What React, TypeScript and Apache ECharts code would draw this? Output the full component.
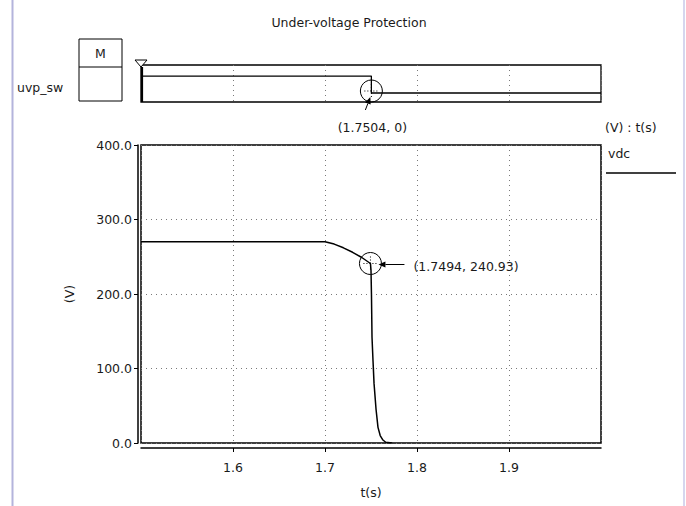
import React, { useEffect, useRef } from "react";
import * as echarts from "echarts";

// ---- data ----
const TITLE = "Under-voltage Protection";
const X_MIN = 1.5;
const X_MAX = 2.0;
const X_STEP = 0.1;
const Y_MIN = 0;
const Y_MAX = 400;
const Y_STEP = 100;
const X_NAME = "t(s)";
const Y_NAME = "(V)";

const vdcTime = [1.5, 1.6, 1.7, 1.71, 1.72, 1.73, 1.74, 1.7494, 1.75, 1.7505, 1.7511, 1.7522, 1.7533, 1.7555, 1.7576, 1.76, 1.763, 1.766, 1.773];
const vdcValue = [270, 270, 270, 267, 262, 256, 249, 240.93, 232, 200, 142, 110, 80, 45, 21, 10, 4, 1, 0];

const uvpTime = [1.5, 1.7504, 1.7504, 2.0];
const uvpValue = [1, 1, 0, 0];

const cursorVdc = [1.7494, 240.93];
const cursorUvp = [1.7504, 0];

const legendUnits = "(V) : t(s)";
const seriesName = "vdc";
const digitalName = "uvp_sw";
const markerName = "M";

const FONT = "'DejaVu Sans', 'Liberation Sans', sans-serif";
const FS = 12.5;
const TXT = "#1a1a1a";
const font = `${FS}px 'DejaVu Sans', 'Liberation Sans', sans-serif`;

export default function App() {
  const ref = useRef<HTMLDivElement>(null);

  useEffect(() => {
    if (!ref.current) return;
    const chart = echarts.init(ref.current, undefined, { renderer: "svg" });
    const dots = { color: "#7a7a7a", type: [1, 4] as any, width: 1 };
    const fmt = (v: number) => v.toFixed(1);

    chart.setOption({
      animation: false,
      backgroundColor: "#ffffff",
      grid: [
        { left: 141, right: 85, top: 65, height: 37, show: true, borderColor: "#000", borderWidth: 1.3, backgroundColor: "transparent" },
        { left: 141, right: 85, top: 145, height: 298, show: true, borderColor: "#000", borderWidth: 1.5, backgroundColor: "transparent" },
      ],
      xAxis: [
        {
          gridIndex: 0, type: "value", min: X_MIN, max: X_MAX, interval: X_STEP,
          axisLine: { show: false }, axisTick: { show: false }, axisLabel: { show: false },
          splitLine: { show: true, lineStyle: dots },
        },
        {
          gridIndex: 1, type: "value", min: X_MIN, max: X_MAX, interval: X_STEP, offset: 5,
          axisLine: { show: true, onZero: false, lineStyle: { color: "#000", width: 1.5 } },
          axisTick: { show: true, length: 4, lineStyle: { color: "#000", width: 1 } },
          axisLabel: { showMinLabel: false, showMaxLabel: false, formatter: fmt, margin: 13, color: TXT, fontFamily: FONT, fontSize: FS },
          splitLine: { show: true, lineStyle: dots },
          name: X_NAME, nameLocation: "middle", nameGap: 38,
          nameTextStyle: { color: TXT, fontFamily: FONT, fontSize: FS },
        },
      ],
      yAxis: [
        { gridIndex: 0, type: "value", min: -0.53, max: 1.65, show: false },
        {
          gridIndex: 1, type: "value", min: Y_MIN, max: Y_MAX, interval: Y_STEP, offset: 3,
          axisLine: { show: true, onZero: false, lineStyle: { color: "#000", width: 1.5 } },
          axisTick: { show: true, length: 4, lineStyle: { color: "#000", width: 1 } },
          axisLabel: { formatter: fmt, margin: 6, color: TXT, fontFamily: FONT, fontSize: FS },
          splitLine: { show: true, lineStyle: dots },
          name: Y_NAME, nameLocation: "middle", nameRotate: 90, nameGap: 62,
          nameTextStyle: { color: TXT, fontFamily: FONT, fontSize: FS },
        },
      ],
      series: [
        {
          name: digitalName, type: "line", xAxisIndex: 0, yAxisIndex: 0, symbol: "none",
          data: uvpTime.map((t, i) => [t, uvpValue[i]]),
          lineStyle: { color: "#000", width: 1.3 },
        },
        {
          name: seriesName, type: "line", xAxisIndex: 1, yAxisIndex: 1, symbol: "none",
          data: vdcTime.map((t, i) => [t, vdcValue[i]]),
          lineStyle: { color: "#000", width: 1.5 },
        },
      ],
    });

    const p1 = chart.convertToPixel({ xAxisIndex: 1, yAxisIndex: 1 }, cursorVdc) as number[];
    const p2 = chart.convertToPixel({ xAxisIndex: 0, yAxisIndex: 0 }, cursorUvp) as number[];
    const dTop = chart.convertToPixel({ xAxisIndex: 0, yAxisIndex: 0 }, [X_MIN, 1.65]) as number[];
    const dBot = chart.convertToPixel({ xAxisIndex: 0, yAxisIndex: 0 }, [X_MIN, -0.53]) as number[];
    const mRight = chart.convertToPixel({ xAxisIndex: 1, yAxisIndex: 1 }, [X_MAX, Y_MAX]) as number[];

    const text = (t: string, x: number, y: number, align = "left") => ({
      type: "text", x, y, silent: true,
      style: { text: t, fill: TXT, font, align, verticalAlign: "middle" },
    });
    const seg = (x1: number, y1: number, x2: number, y2: number, w = 1, dash?: any) => ({
      type: "line", silent: true,
      shape: { x1, y1, x2, y2 },
      style: { stroke: "#000", lineWidth: w, lineDash: dash },
    });
    const arrow = (x1: number, y1: number, x2: number, y2: number) => {
      const a = Math.atan2(y2 - y1, x2 - x1);
      const L = 7, W = 3;
      const bx = x2 - L * Math.cos(a), by = y2 - L * Math.sin(a);
      const nx = -Math.sin(a) * W, ny = Math.cos(a) * W;
      return [
        seg(x1, y1, bx, by, 1),
        { type: "polygon", silent: true, shape: { points: [[x2, y2], [bx + nx, by + ny], [bx - nx, by - ny]] }, style: { fill: "#000" } },
      ];
    };
    const cursor = (cx: number, cy: number) => [
      { type: "circle", silent: true, shape: { cx, cy, r: 11 }, style: { fill: "none", stroke: "#000", lineWidth: 1 } },
      seg(cx - 7, cy, cx + 7, cy, 1, [1, 2]),
      seg(cx, cy - 7, cx, cy + 7, 1, [1, 2]),
    ];

    const mx = dTop[0];
    const c2 = [p2[0], p2[1] - 2];
    const graphics: any[] = [
      { type: "line", silent: true, shape: { x1: 12.5, y1: 0, x2: 12.5, y2: 506 }, style: { stroke: "#b4b4dc", lineWidth: 2 } },
      { type: "line", silent: true, shape: { x1: 684, y1: 0, x2: 684, y2: 506 }, style: { stroke: "#d6d6ee", lineWidth: 2 } },
      text(TITLE, 349, 22, "center"),
      { type: "rect", silent: true, shape: { x: 79, y: 39, width: 43, height: 62 }, style: { fill: "none", stroke: "#000", lineWidth: 1 } },
      seg(79, 67, 122, 67, 1),
      text(markerName, 100.5, 53, "center"),
      text(digitalName, 17, 87),
      { type: "polygon", silent: true, shape: { points: [[mx - 6, dTop[1] - 5], [mx + 6, dTop[1] - 5], [mx, dTop[1] + 2]] }, style: { fill: "#fff", stroke: "#000", lineWidth: 1 } },
      seg(mx + 1, dTop[1] + 2, mx + 1, dBot[1], 2.2),
      ...cursor(c2[0], c2[1]),
      ...arrow(c2[0] - 6, c2[1] + 19, c2[0] - 1, c2[1] + 6),
      text(`(${cursorUvp[0].toFixed(4)}, ${cursorUvp[1]})`, c2[0] + 1, c2[1] + 36, "center"),
      ...cursor(p1[0], p1[1]),
      ...arrow(p1[0] + 34, p1[1] + 1, p1[0] + 8, p1[1] + 1),
      text(`(${cursorVdc[0].toFixed(4)}, ${cursorVdc[1].toFixed(2)})`, p1[0] + 43, p1[1] + 3),
      text(legendUnits, mRight[0] + 4, 127),
      text(seriesName, mRight[0] + 7, 153),
      seg(mRight[0] + 5, 173, mRight[0] + 75, 173, 1.3),
    ];
    chart.setOption({ graphic: graphics });

    return () => chart.dispose();
  }, []);

  return <div ref={ref} style={{ position: "absolute", left: 0, top: 0, width: 686, height: 506 }} />;
}
